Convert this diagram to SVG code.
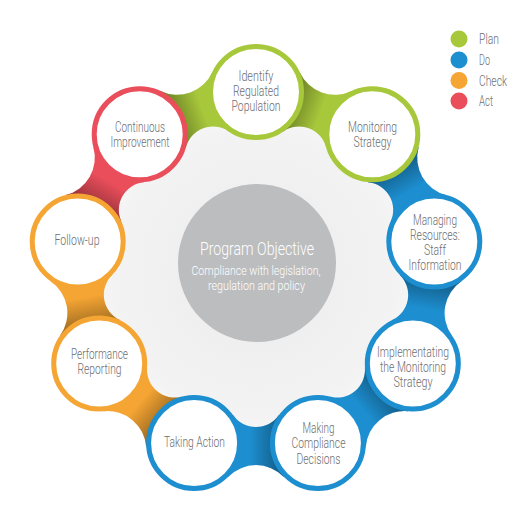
<svg xmlns="http://www.w3.org/2000/svg" xmlns:xlink="http://www.w3.org/1999/xlink" width="528" height="518" viewBox="0 0 528 518">
<style>
.ring{fill:#ffffff;stroke-width:5}
.pl{stroke:#a8c83b}.dO{stroke:#1d8ecf}.ch{stroke:#f5a533}.ac{stroke:#ea4e5b}
.lbl{font-family:Roboto,"Liberation Sans",sans-serif;font-size:14px;font-weight:300;fill:#6d6e71;text-anchor:middle}
.leg{font-family:Roboto,"Liberation Sans",sans-serif;font-size:14px;font-weight:300;fill:#6d6e71}
.ctr{font-family:Roboto,"Liberation Sans",sans-serif;font-weight:300;fill:#ffffff;text-anchor:middle}
</style>
<defs>
<radialGradient id="bg" cx="256" cy="273" r="190" gradientUnits="userSpaceOnUse">
<stop offset="0" stop-color="#ebebeb"/>
<stop offset="0.75" stop-color="#f3f3f3"/>
<stop offset="1" stop-color="#fbfbfb"/>
</radialGradient>
<linearGradient id="shade" gradientUnits="userSpaceOnUse" x1="170" y1="-42" x2="170" y2="6">
<stop offset="0" stop-color="#000" stop-opacity="0.55"/>
<stop offset="1" stop-color="#000" stop-opacity="0"/>
</linearGradient>
<path id="conn" d="M203.7 -27.6A38.68 38.68 0 0 0 203.7 27.6L170.1 61.9L142.34 22.74A27.87 27.87 0 0 0 142.34 -22.74L170.1 -61.9Z"/>
</defs>
<rect width="528" height="518" fill="#ffffff"/>
<g id="inner-area">
<circle cx="256" cy="273" r="188" fill="url(#bg)"/>
</g>
<g id="connectors">
<g transform="translate(256,273) rotate(-70)"><use xlink:href="#conn" fill="#a8c83b"/><use xlink:href="#conn" fill="url(#shade)"/></g>
<g transform="translate(256,273) rotate(-30)"><use xlink:href="#conn" fill="#1d8ecf"/><use xlink:href="#conn" fill="url(#shade)"/></g>
<g transform="translate(256,273) rotate(10)"><use xlink:href="#conn" fill="#1d8ecf"/><use xlink:href="#conn" fill="url(#shade)"/></g>
<g transform="translate(256,273) rotate(50)"><use xlink:href="#conn" fill="#1d8ecf"/><use xlink:href="#conn" fill="url(#shade)"/></g>
<g transform="translate(256,273) rotate(90)"><use xlink:href="#conn" fill="#1d8ecf"/><use xlink:href="#conn" fill="url(#shade)"/></g>
<g transform="translate(256,273) rotate(130)"><use xlink:href="#conn" fill="#f5a533"/><use xlink:href="#conn" fill="url(#shade)"/></g>
<g transform="translate(256,273) rotate(170)"><use xlink:href="#conn" fill="#f5a533"/><use xlink:href="#conn" fill="url(#shade)"/></g>
<g transform="translate(256,273) rotate(210)"><use xlink:href="#conn" fill="#ea4e5b"/><use xlink:href="#conn" fill="url(#shade)"/></g>
<g transform="translate(256,273) rotate(250)"><use xlink:href="#conn" fill="#a8c83b"/><use xlink:href="#conn" fill="url(#shade)"/></g>
</g>
<g id="program-objective">
<circle cx="257" cy="263" r="79" fill="#bcbdbf"/>
<text class="ctr" x="257" y="255" font-size="19" textLength="114" lengthAdjust="spacingAndGlyphs">Program Objective</text>
<text class="ctr" x="256" y="275" font-size="13" textLength="129" lengthAdjust="spacingAndGlyphs">Compliance with legislation,</text>
<text class="ctr" x="256.5" y="290" font-size="13" textLength="97" lengthAdjust="spacingAndGlyphs">regulation and policy</text>
</g>
<g id="node-identify">
<circle class="ring pl" cx="256" cy="92" r="45.5"/>
<text class="lbl" x="256" y="81" textLength="35" lengthAdjust="spacingAndGlyphs">Identify</text>
<text class="lbl" x="256" y="96" textLength="46" lengthAdjust="spacingAndGlyphs">Regulated</text>
<text class="lbl" x="256" y="111" textLength="49" lengthAdjust="spacingAndGlyphs">Population</text>
</g>
<g id="node-monitoring">
<circle class="ring pl" cx="372.3" cy="134.3" r="45.5"/>
<text class="lbl" x="372.5" y="132" textLength="49" lengthAdjust="spacingAndGlyphs">Monitoring</text>
<text class="lbl" x="372.5" y="147" textLength="38" lengthAdjust="spacingAndGlyphs">Strategy</text>
</g>
<g id="node-managing">
<circle class="ring dO" cx="434.3" cy="241.6" r="45.5"/>
<text class="lbl" x="435" y="225" textLength="44" lengthAdjust="spacingAndGlyphs">Managing</text>
<text class="lbl" x="435" y="240" textLength="50" lengthAdjust="spacingAndGlyphs">Resources:</text>
<text class="lbl" x="435" y="255" textLength="22" lengthAdjust="spacingAndGlyphs">Staff</text>
<text class="lbl" x="435" y="270" textLength="53" lengthAdjust="spacingAndGlyphs">Information</text>
</g>
<g id="node-implementing">
<circle class="ring dO" cx="412.8" cy="363.5" r="45.5"/>
<text class="lbl" x="413" y="357" textLength="72" lengthAdjust="spacingAndGlyphs">Implementating</text>
<text class="lbl" x="413" y="372" textLength="66" lengthAdjust="spacingAndGlyphs">the Monitoring</text>
<text class="lbl" x="413" y="387" textLength="39" lengthAdjust="spacingAndGlyphs">Strategy</text>
</g>
<g id="node-making">
<circle class="ring dO" cx="317.9" cy="443.1" r="45.5"/>
<text class="lbl" x="318.5" y="433" textLength="32" lengthAdjust="spacingAndGlyphs">Making</text>
<text class="lbl" x="318.5" y="448" textLength="54" lengthAdjust="spacingAndGlyphs">Compliance</text>
<text class="lbl" x="318.5" y="463.5" textLength="44" lengthAdjust="spacingAndGlyphs">Decisions</text>
</g>
<g id="node-taking">
<circle class="ring dO" cx="194.1" cy="443.1" r="45.5"/>
<text class="lbl" x="194.5" y="447" textLength="61" lengthAdjust="spacingAndGlyphs">Taking Action</text>
</g>
<g id="node-performance">
<circle class="ring ch" cx="99.2" cy="363.5" r="45.5"/>
<text class="lbl" x="99.5" y="359" textLength="57" lengthAdjust="spacingAndGlyphs">Performance</text>
<text class="lbl" x="99.5" y="374" textLength="44" lengthAdjust="spacingAndGlyphs">Reporting</text>
</g>
<g id="node-followup">
<circle class="ring ch" cx="77.7" cy="241.6" r="45.5"/>
<text class="lbl" x="77" y="245" textLength="45" lengthAdjust="spacingAndGlyphs">Follow-up</text>
</g>
<g id="node-continuous">
<circle class="ring ac" cx="139.7" cy="134.3" r="45.5"/>
<text class="lbl" x="140" y="132" textLength="50" lengthAdjust="spacingAndGlyphs">Continuous</text>
<text class="lbl" x="140" y="147" textLength="59" lengthAdjust="spacingAndGlyphs">Improvement</text>
</g>
<g id="legend">
<circle cx="459" cy="39" r="8.5" fill="#a8c83b"/>
<circle cx="459" cy="60" r="8.5" fill="#1d8ecf"/>
<circle cx="459" cy="80.5" r="8.5" fill="#f5a533"/>
<circle cx="459" cy="101" r="8.5" fill="#ea4e5b"/>
<text class="leg" x="479" y="44" textLength="20" lengthAdjust="spacingAndGlyphs">Plan</text>
<text class="leg" x="479" y="65" textLength="11" lengthAdjust="spacingAndGlyphs">Do</text>
<text class="leg" x="479" y="85.5" textLength="28" lengthAdjust="spacingAndGlyphs">Check</text>
<text class="leg" x="479" y="106" textLength="14" lengthAdjust="spacingAndGlyphs">Act</text>
</g>
</svg>
